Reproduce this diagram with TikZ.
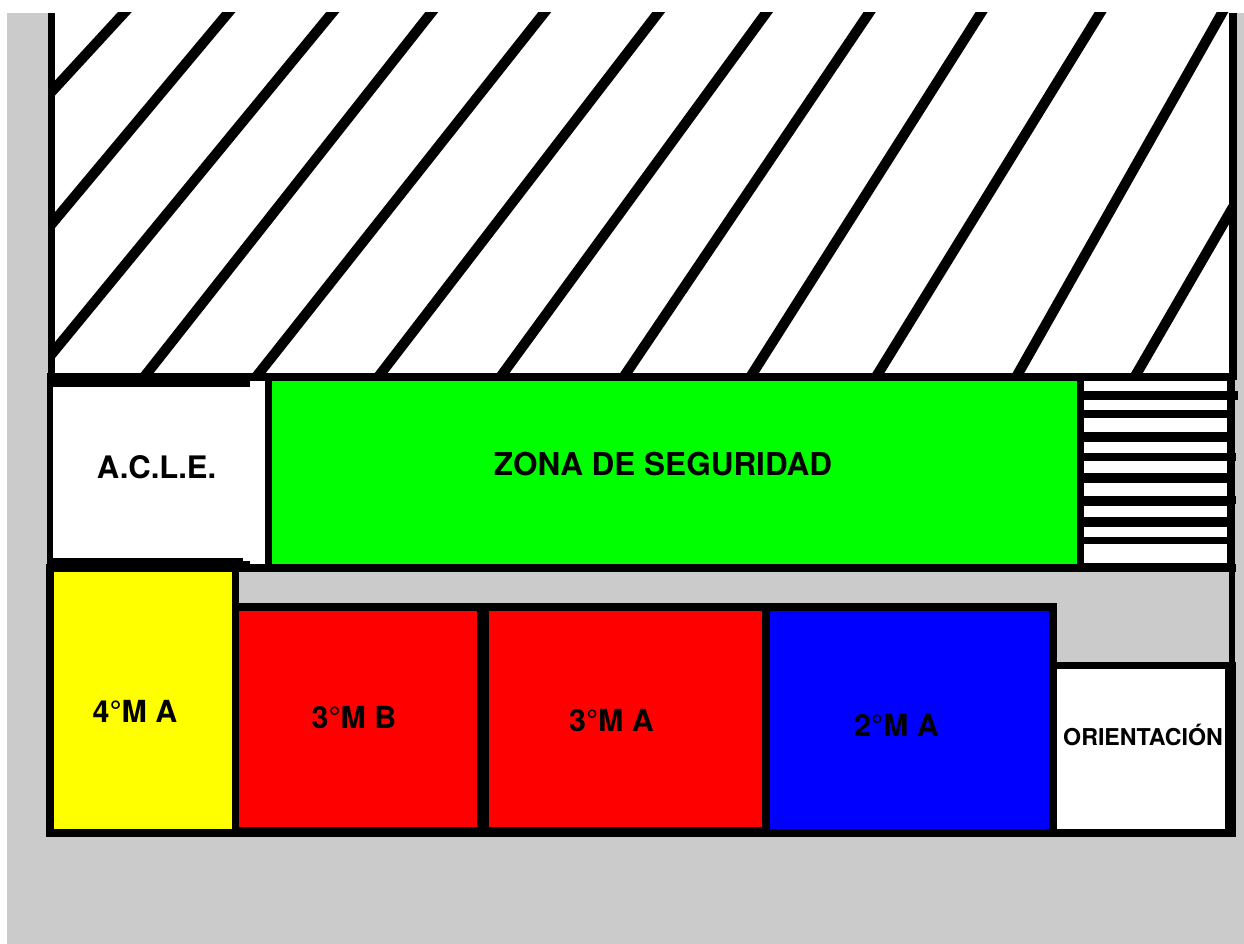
\documentclass[tikz,border=0pt]{standalone}
\usepackage{fontspec}
\setmainfont{TeX Gyre Heros}
\definecolor{floorgray}{RGB}{203,203,203}
\definecolor{zonegreen}{RGB}{0,255,0}
\definecolor{roomyellow}{RGB}{255,255,0}
\definecolor{roomred}{RGB}{255,0,0}
\definecolor{roomblue}{RGB}{0,0,255}
\tikzset{
  hatchline/.style={black,line width=10.2pt,line cap=butt,shorten >=-8pt,shorten <=-8pt},
  big/.style={inner sep=0pt,anchor=base,font=\fontsize{30.4}{32}\selectfont\bfseries,text=black},
  small/.style={inner sep=0pt,anchor=base,font=\fontsize{23.2}{26}\selectfont\bfseries,text=black}
}
\begin{document}
\begin{tikzpicture}[x=1pt,y=-1pt]
\useasboundingbox (0,0) rectangle (1244,944);
\fill[white] (0,0) rectangle (1244,944);
\fill[floorgray] (7,13) rectangle (1244,944);
% hatched yard
\fill[white] (55,13) rectangle (1229,373);
\begin{scope}
\clip (55,13) rectangle (1229,376);
\draw[hatchline] (124,13) -- (55,88);
\draw[hatchline] (228,13) -- (55,220);
\draw[hatchline] (332,13) -- (55,350);
\draw[hatchline] (431,13) -- (148,372);
\draw[hatchline] (544,13) -- (260,372);
\draw[hatchline] (658,13) -- (382,372);
\draw[hatchline] (766,13) -- (504,372);
\draw[hatchline] (869,13) -- (627,372);
\draw[hatchline] (981,13) -- (753.5,372);
\draw[hatchline] (1100,13) -- (879,372);
\draw[hatchline] (1222,13) -- (1019,372);
\draw[hatchline] (1229,214) -- (1137.5,372);
\end{scope}
% walls
\fill[black] (48,13) rectangle (55,380);
\fill[black] (1228.5,13) rectangle (1236.5,380);
\fill[black] (47,373) rectangle (1235,572);
\fill[black] (46,564) rectangle (1236,837);
% bumps on the stripes
\fill[black] (1230,391) rectangle (1238,400);
\fill[black] (1230,453) rectangle (1236,461);
\fill[black] (1230,496) rectangle (1236,504);
\fill[black] (1075,475) rectangle (1084,482);
% A.C.L.E.
\fill[white] (53,387) rectangle (250,558);
\fill[white] (250,381) rectangle (265,564);
\fill[white] (243,558) rectangle (250,561);
% green zone
\fill[zonegreen] (272,381) rectangle (1077,564);
% stripes
\foreach \ya/\yb in {381/391,400/410,418/432,442/453,461/473,483/496,506/517,527/537,544/563}
  \fill[white] (1084,\ya) rectangle (1227,\yb);
% corridor
\fill[floorgray] (239,572) rectangle (1229,603);
\fill[floorgray] (1057,572) rectangle (1229,662);
\fill[floorgray] (1235,572) rectangle (1244,662);
% rooms
\fill[roomyellow] (53.5,572) rectangle (232,829);
\fill[roomred] (239,611) rectangle (477,827);
\fill[roomred] (489,611) rectangle (762,827);
\fill[roomblue] (770,611) rectangle (1049,829);
\fill[white] (1057,669) rectangle (1225,829);
% labels
\node[big,font=\fontsize{31}{33}\selectfont\bfseries] (acle) at (156.5,478) {A.C.L.E.};
\node[big,font=\fontsize{31.5}{34}\selectfont\bfseries] (zona) at (663,475) {ZONA DE SEGURIDAD};
\node[big] (cuartoA) at (135,722) {4°M A};
\node[big] (terceroB) at (354,728) {3°M B};
\node[big] (terceroA) at (611.5,731) {3°M A};
\node[big] (segundoA) at (896.5,736) {2°M A};
\node[small] (orient) at (1143,745) {ORIENTACIÓN};
\end{tikzpicture}
\end{document}
